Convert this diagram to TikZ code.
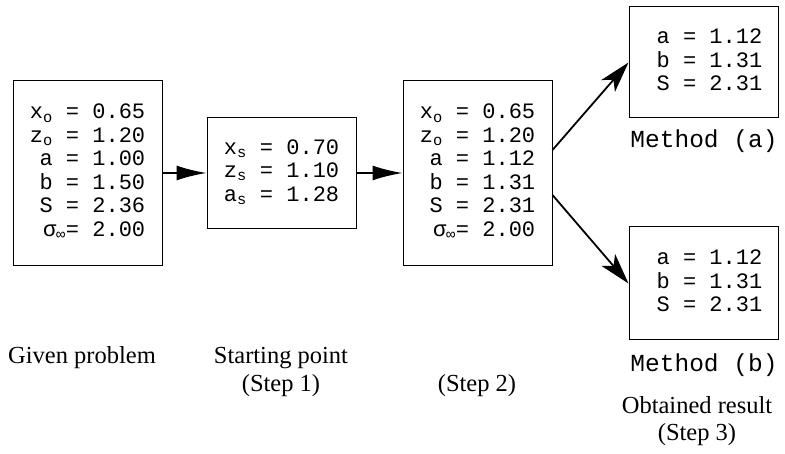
\documentclass[tikz,border=0pt]{standalone}
\usepackage{fontspec}
\setmainfont{Liberation Serif}
\setmonofont{Liberation Mono}
\usetikzlibrary{arrows.meta}

% value table set in typewriter, "=" signs lined up
\newcommand{\vals}[1]{{\ttfamily\fontsize{22}{23.5}\selectfont
	\begin{tabular}{@{}r@{\ }l@{}}#1\end{tabular}}}

\begin{document}
\begin{tikzpicture}[x=1pt,y=-1pt,
	databox/.style={draw, line width=1pt, minimum width=149pt, inner sep=0pt},
	lbl/.style={font=\fontsize{24.5}{27.5}\selectfont, align=center},
	mlbl/.style={font=\ttfamily\fontsize{24.5}{27}\selectfont},
	conn/.style={line width=1.8pt, -{Latex[length=30pt,width=15pt]}},
	fork/.style={line width=1.8pt, -{Stealth[length=31pt,width=18pt,inset=8pt]}}]
	
	\useasboundingbox (0,0) rectangle (785,454);
	
	% the three steps
	\node[databox, minimum height=185pt] (given) at (87.5,173) {\vals{
		x\textsubscript{o} = & 0.65\\
		z\textsubscript{o} = & 1.20\\
		a = & 1.00\\
		b = & 1.50\\
		S = & 2.36\\
		σ\textsubscript{∞}= & 2.00}};
	
	\node[databox, minimum height=111pt] (s1) at (281.5,173) {\vals{
		x\textsubscript{s} = & 0.70\\
		z\textsubscript{s} = & 1.10\\
		a\textsubscript{s} = & 1.28}};
	
	\node[databox, minimum height=185pt] (s2) at (477.5,173) {\vals{
		x\textsubscript{o} = & 0.65\\
		z\textsubscript{o} = & 1.20\\
		a = & 1.12\\
		b = & 1.31\\
		S = & 2.31\\
		σ\textsubscript{∞}= & 2.00}};
	
	% results of the two methods
	\node[databox, minimum height=111pt] (ma) at (703.5,62.5) {\hspace{12pt}\vals{
		a = & 1.12\\
		b = & 1.31\\
		S = & 2.31}};
	
	\node[databox, minimum height=113pt] (mb) at (703.5,283.5) {\hspace{12pt}\vals{
		a = & 1.12\\
		b = & 1.31\\
		S = & 2.31}};
	
	\draw[conn] (given) -- (s1);
	
	\draw[conn] (s1) -- (s2);
	
	\draw[fork] ([yshift=23pt]s2.east) -- (ma.west);
	
	\draw[fork] ([yshift=-22pt]s2.east) -- (mb.west);
	
	% captions
	\node[lbl] (tgiven) at (82,358) {Given problem};
	
	\node[lbl] (ts1) at (281,372) {Starting point\\(Step 1)};
	
	\node[lbl] (ts2) at (477,386) {(Step 2)};
	
	\node[mlbl] (tma) at (704,141) {Method (a)};
	
	\node[mlbl] (tmb) at (704,365) {Method (b)};
	
	\node[lbl] (tres) at (697,421) {Obtained result\\(Step 3)};
	
\end{tikzpicture}
\end{document}
